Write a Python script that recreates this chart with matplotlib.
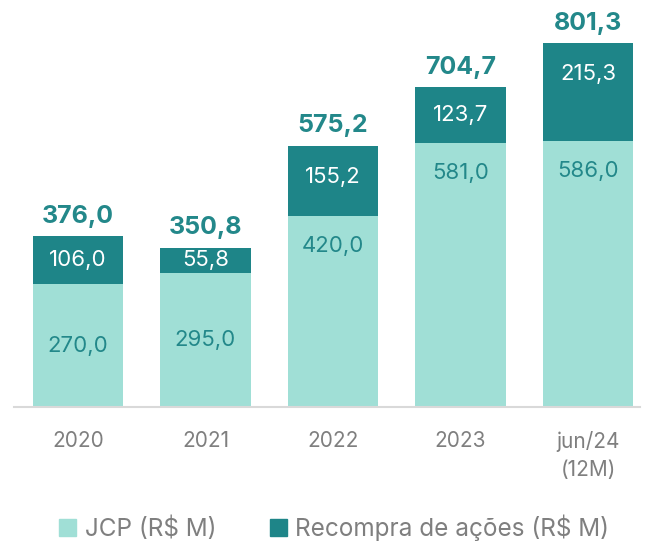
import matplotlib.pyplot as plt
import numpy as np
from matplotlib.patches import Patch

plt.rcParams['font.family'] = ['Inter', 'DejaVu Sans']

periodos = ['2020', '2021', '2022', '2023', 'jun/24\n(12M)']
jcp = [270.0, 295.0, 420.0, 581.0, 586.0]
recompra = [106.0, 55.8, 155.2, 123.7, 215.3]

cor_jcp = '#a0dfd6'
cor_recompra = '#1e8588'
cor_texto = '#23888a'
cor_cinza = '#7f7f7f'


def fmt(v):
    return f'{v:.1f}'.replace('.', ',')


fig = plt.figure(figsize=(6.58, 5.45), dpi=100)
ax = fig.add_axes([14 / 658, 138 / 545, 626 / 658, 397 / 545])

x = np.arange(len(periodos))
largura = 0.71
ax.bar(x, jcp, largura, color=cor_jcp, label='JCP (R$ M)')
ax.bar(x, recompra, largura, bottom=jcp, color=cor_recompra,
       label='Recompra de ações (R$ M)')

for i in range(len(x)):
    # segmentos altos: rótulo perto do topo; baixos: centrado
    if jcp[i] > 350:
        y1 = jcp[i] - 66
    else:
        y1 = jcp[i] / 2
    ax.text(x[i], y1, fmt(jcp[i]), ha='center', va='center',
            fontsize=16, color=cor_texto)
    topo = jcp[i] + recompra[i]
    y2 = topo - min(recompra[i] / 2, 68)
    ax.text(x[i], y2, fmt(recompra[i]), ha='center', va='center',
            fontsize=16, color='white')
    ax.annotate(fmt(topo), (x[i], topo), xytext=(0, 6),
                textcoords='offset points', ha='center', va='bottom',
                fontsize=18, fontweight='bold', color=cor_texto)

ax.set_xlim(-0.502, 4.408)
ax.set_ylim(0, 874)
ax.set_xticks(x)
ax.set_xticklabels(periodos, fontsize=15, color=cor_cinza, linespacing=1.55)
ax.tick_params(axis='x', length=0, pad=17)
ax.set_yticks([])
for lado in ['top', 'right', 'left']:
    ax.spines[lado].set_visible(False)
ax.spines['bottom'].set_color('#d9d9d9')
ax.spines['bottom'].set_linewidth(1.5)

handles = [Patch(color=cor_jcp, label='JCP (R$ M)'),
           Patch(color=cor_recompra, label='Recompra de ações (R$ M)')]
fig.legend(handles=handles, loc='center', bbox_to_anchor=(0.508, 1 - 528 / 545),
           ncol=2, frameon=False, fontsize=17.5, labelcolor=cor_cinza,
           handlelength=0.7, handleheight=0.7, handletextpad=0.35,
           columnspacing=2.2)

fig.savefig('out.png', dpi=100)
